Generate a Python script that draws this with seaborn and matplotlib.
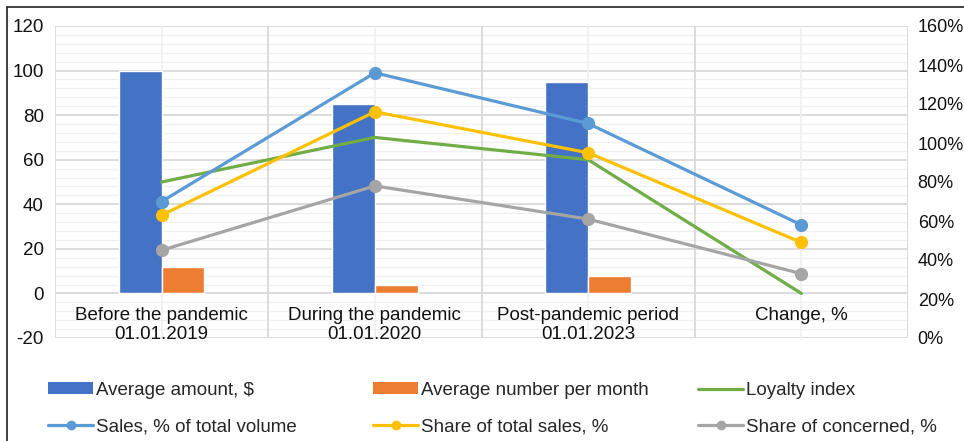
import numpy as np
import pandas as pd
import matplotlib
matplotlib.use("Agg")
import matplotlib.pyplot as plt
from matplotlib.lines import Line2D
from matplotlib.patches import Patch
from matplotlib.ticker import MultipleLocator, PercentFormatter, FixedLocator
import seaborn as sns

# ---------------- data ----------------
categories = ["Before the pandemic\n01.01.2019", "During the pandemic\n01.01.2020",
              "Post-pandemic period\n01.01.2023", "Change, %"]
avg_amount = [100, 85, 95, np.nan]
avg_number = [12, 4, 8, np.nan]
loyalty_index = [50, 70, 60, 0]
sales_share_volume = [0.70, 1.36, 1.10, 0.58]
share_total_sales = [0.63, 1.16, 0.95, 0.49]
share_concerned = [0.45, 0.78, 0.61, 0.33]

bar_names = ["Average amount, $", "Average number per month"]
line_names = ["Loyalty index", "Sales, % of total volume", "Share of total sales, %",
              "Share of concerned, %"]
left_ticks = [-20, 0, 20, 40, 60, 80, 100, 120]
right_ticks = [0, 0.2, 0.4, 0.6, 0.8, 1.0, 1.2, 1.4, 1.6]

# ---------------- style ----------------
sns.set_theme(style="white")
plt.rcParams["font.family"] = ["Liberation Sans", "DejaVu Sans"]
plt.rcParams["axes.unicode_minus"] = False
FS = 13.5
c_blue, c_orange = "#4472C4", "#ED7D31"
c_green, c_lblue, c_yellow, c_gray = "#70AD47", "#5B9BD5", "#FFC000", "#A5A5A5"
major_grid, minor_grid = "#D9D9D9", "#F0F0F0"

bars = pd.DataFrame({
    "category": categories * 2,
    "series": [bar_names[0]] * len(categories) + [bar_names[1]] * len(categories),
    "value": avg_amount + avg_number,
})

fig = plt.figure(figsize=(9.64, 4.41), dpi=100)
ax = fig.add_axes([55 / 964, 1 - 338 / 441, (908 - 55) / 964, (338 - 26) / 441])

sns.barplot(data=bars, x="category", y="value", hue="series", order=categories,
            hue_order=bar_names, palette=[c_blue, c_orange], width=0.4,
            saturation=1, legend=False, ax=ax)

pos = np.arange(len(categories))
sns.lineplot(x=pos, y=loyalty_index, color=c_green, lw=2.3, sort=False, ax=ax)

ax2 = ax.twinx()
for vals, col in [(sales_share_volume, c_lblue), (share_total_sales, c_yellow),
                  (share_concerned, c_gray)]:
    sns.lineplot(x=pos, y=vals, color=col, lw=2.3, marker="o", markersize=9.5,
                 markeredgewidth=0, sort=False, ax=ax2)

# axes limits / ticks
ax.set_xlim(-0.5, len(categories) - 0.5)
ax.set_ylim(left_ticks[0], left_ticks[-1])
ax2.set_ylim(right_ticks[0], right_ticks[-1])
ax.yaxis.set_major_locator(FixedLocator(left_ticks))
ax.yaxis.set_minor_locator(MultipleLocator(4))
ax2.yaxis.set_major_locator(FixedLocator(right_ticks))
ax2.yaxis.set_major_formatter(PercentFormatter(1.0, decimals=0))
ax.set_xlabel("")
ax.set_ylabel("")
ax2.set_ylabel("")

# grid
ax.set_axisbelow(True)
ax.grid(False)
ax2.grid(False)
for y in np.arange(left_ticks[0], left_ticks[-1] + 0.1, 4):
    is_major = (y % 20 == 0)
    ax.axhline(y, color=major_grid if is_major else minor_grid,
               lw=1.3 if is_major else 1.0, zorder=0)
for i in range(len(categories) + 1):
    ax.axvline(i - 0.5, color=major_grid, lw=1.3, zorder=0)
for i in range(len(categories)):
    ax.axvline(i, color=minor_grid, lw=1.3, zorder=0)

for a in (ax, ax2):
    for s in a.spines.values():
        s.set_visible(False)
ax.spines["bottom"].set_position(("data", 0))
ax.tick_params(axis="x", which="both", length=0, pad=10, labelsize=FS, colors="#111111")
ax.tick_params(axis="y", which="both", length=0, pad=8, labelsize=FS, colors="#111111")
ax2.tick_params(axis="y", which="both", length=0, pad=7, labelsize=13, colors="#111111")
ax.set_xticks(pos)
ax.set_xticklabels(categories, linespacing=1.15)

# legend (three columns, two rows)
handles = {
    bar_names[0]: Patch(facecolor=c_blue, edgecolor="none"),
    bar_names[1]: Patch(facecolor=c_orange, edgecolor="none"),
    line_names[0]: Line2D([], [], color=c_green, lw=2.3),
    line_names[1]: Line2D([], [], color=c_lblue, lw=2.3, marker="o", markersize=7, markeredgewidth=0),
    line_names[2]: Line2D([], [], color=c_yellow, lw=2.3, marker="o", markersize=7, markeredgewidth=0),
    line_names[3]: Line2D([], [], color=c_gray, lw=2.3, marker="o", markersize=7, markeredgewidth=0),
}
columns = [[bar_names[0], line_names[1]], [bar_names[1], line_names[2]],
           [line_names[0], line_names[3]]]
col_x = [48, 373, 698]
for cx, names in zip(col_x, columns):
    fig.legend([handles[n] for n in names], names, loc="upper left",
               bbox_to_anchor=(cx / 964, 1 - 382 / 441), frameon=False,
               fontsize=FS, handlelength=2.4, handleheight=0.6,
               handletextpad=0.15, labelspacing=1.05, borderpad=0,
               borderaxespad=0)

# outer frame (top and left edges)
fig.add_artist(Line2D([7 / 964, 1], [1 - 7 / 441, 1 - 7 / 441], transform=fig.transFigure,
                      color="#222222", lw=1.2))
fig.add_artist(Line2D([7 / 964, 7 / 964], [0, 1 - 7 / 441], transform=fig.transFigure,
                      color="#222222", lw=1.2))

fig.savefig("out.png", dpi=100, facecolor="white")
